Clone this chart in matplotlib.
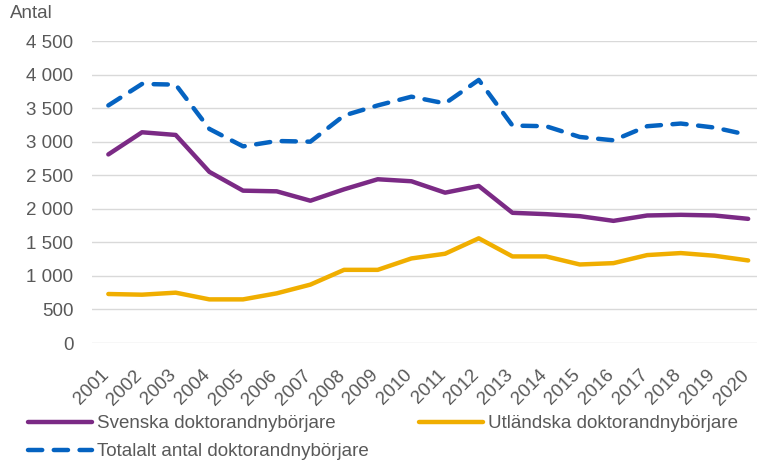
import matplotlib
matplotlib.use("Agg")
import matplotlib.pyplot as plt
from matplotlib.ticker import FuncFormatter, MultipleLocator
import matplotlib.transforms as mtransforms

plt.rcParams['font.family'] = ['Liberation Sans', 'DejaVu Sans']

years = [str(y) for y in range(2001, 2021)]
svenska = [2810, 3140, 3100, 2550, 2270, 2260, 2120, 2290, 2440, 2410,
           2240, 2340, 1940, 1920, 1890, 1820, 1900, 1910, 1900, 1850]
utlandska = [730, 720, 750, 650, 650, 740, 870, 1090, 1090, 1260,
             1330, 1560, 1290, 1290, 1170, 1190, 1310, 1340, 1300, 1230]
totalt = [3540, 3860, 3850, 3190, 2930, 3010, 3000, 3390, 3540, 3670,
          3570, 3920, 3240, 3230, 3070, 3020, 3230, 3270, 3210, 3100]

labels = ["Svenska doktorandnybörjare", "Utländska doktorandnybörjare",
          "Totalalt antal doktorandnybörjare"]
colors = ["#7B2A85", "#F0AE00", "#0563C1"]
txt = "#595959"
fs = 13.5

fig = plt.figure(figsize=(7.57, 4.62), dpi=100)
ax = fig.add_axes([91.5/757, 1-343/462, (765-91.5)/757, (343-41)/462])

x = list(range(len(years)))
l1, = ax.plot(x, svenska, color=colors[0], lw=3.2, solid_capstyle='round', solid_joinstyle='round')
l2, = ax.plot(x, utlandska, color=colors[1], lw=3.2, solid_capstyle='round', solid_joinstyle='round')
l3, = ax.plot(x, totalt, color=colors[2], lw=3.2, linestyle=(0, (3.2, 2.6)),
              dash_capstyle='round', dash_joinstyle='round')

ax.set_xlim(-0.5, 19.5)
ax.set_ylim(0, 4500)
ax.yaxis.set_major_locator(MultipleLocator(500))
ax.yaxis.set_major_formatter(FuncFormatter(lambda v, p: f"{int(v):,}".replace(",", " ")))
ax.grid(axis='y', color='#d9d9d9', lw=1)
ax.set_axisbelow(True)
for s in ax.spines.values():
    s.set_visible(False)
ax.set_xticks(x)
ax.set_xticklabels(years, rotation=45, ha='right', va='top')
ax.tick_params(axis='x', length=0, pad=17, labelsize=fs, labelcolor=txt)
ax.tick_params(axis='y', length=0, pad=13, labelsize=fs, labelcolor=txt)
off = mtransforms.ScaledTranslation(4/100, 0, fig.dpi_scale_trans)
for lab in ax.get_xticklabels():
    lab.set_transform(lab.get_transform() + off)

fig.text(10/757, 1-14/462, "Antal", fontsize=fs, color=txt, va='center', ha='left')

leg = fig.legend([l1, l3, l2], [labels[0], labels[2], labels[1]], ncol=2,
                 loc='upper left', bbox_to_anchor=(28/757, 1-415/462),
                 frameon=False, fontsize=fs, handlelength=3.4, handletextpad=0.27,
                 columnspacing=2.7, labelspacing=0.6, borderpad=0, borderaxespad=0)
for t in leg.get_texts():
    t.set_color(txt)

fig.savefig("out.png", dpi=100)
